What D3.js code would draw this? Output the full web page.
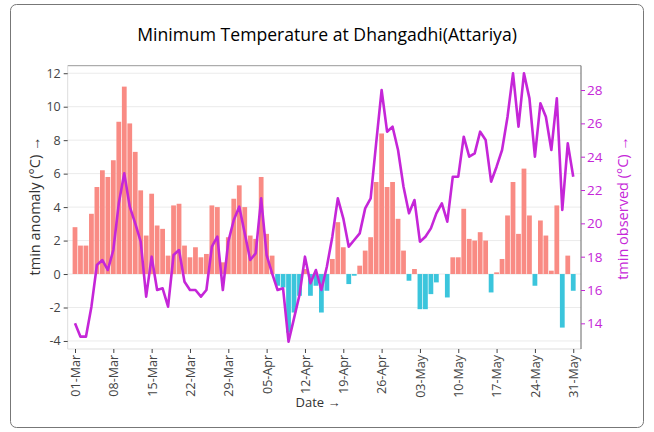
<!DOCTYPE html>
<html><head><meta charset="utf-8">
<script src="https://cdn.jsdelivr.net/npm/d3@7"></script>
<style>
body{margin:0;background:#fff;}
svg{display:block;font-family:"Open Sans",sans-serif;}
</style>
</head><body>
<svg id="c" width="654" height="432"></svg>
<script>
const titleText = "Minimum Temperature at Dhangadhi(Attariya)";
const firstDay = [2023, 2, 1];
const anomaly = [2.8,1.7,1.7,3.6,5.2,6.2,5.8,6.8,9.1,11.2,9.0,7.3,5.0,2.3,4.8,2.9,2.7,1.1,4.1,4.2,1.7,1.0,1.6,1.0,1.2,4.1,4.0,0.7,2.2,4.5,5.3,4.0,2.3,2.1,5.8,2.4,1.1,-0.7,-0.8,-3.5,-2.3,-1.3,0.3,-1.3,-0.7,-2.3,-1.0,0.9,3.1,1.6,-0.6,-0.1,0.5,1.4,2.2,5.5,8.4,5.2,5.5,3.3,1.4,-0.4,0.3,-2.1,-2.1,-1.2,-0.5,0,-1.4,1.0,1.0,3.9,2.1,2.0,2.5,2.0,-1.1,0.1,0.9,3.5,5.5,2.4,6.3,3.5,-0.7,3.2,2.3,0.2,4.1,-3.2,1.1,-1.0];
const observed = [14.0,13.2,13.2,15.0,17.5,17.8,17.2,18.4,21.2,23.0,21.0,20.0,18.9,15.6,18.0,16.0,16.1,15.0,18.1,18.4,16.5,16.0,16.0,15.6,16.0,18.6,19.2,16.0,18.9,20.2,21.0,19.4,17.8,18.2,21.5,18.1,17.0,16.0,16.1,12.9,14.3,15.7,18.0,16.4,17.2,16.0,17.4,19.2,21.5,20.3,18.6,19.0,19.4,20.9,21.5,24.8,28.0,25.5,25.8,24.4,22.2,20.6,21.4,18.9,19.2,19.7,20.6,21.2,20.1,22.8,22.8,25.2,24.0,24.2,25.5,25.0,22.5,23.4,24.4,26.4,29.0,25.8,29.0,27.5,24.0,27.2,26.4,24.4,27.5,20.8,24.8,22.8];
const xTickLabels = ["01-Mar","08-Mar","15-Mar","22-Mar","29-Mar","05-Apr","12-Apr","19-Apr","26-Apr","03-May","10-May","17-May","24-May","31-May"];
const leftTicks = [-4,-2,0,2,4,6,8,10,12];
const rightTicks = [14,16,18,20,22,24,26,28];

const svg = d3.select("#c");
const L = 67.7, R = 581, T = 65.7, B = 349;
const posColor = "#F98B84", negColor = "#3BC5DC", lineColor = "#C526D8";

const start = new Date(firstDay[0], firstDay[1], firstDay[2]);
const dates = anomaly.map((_, i) => d3.timeDay.offset(start, i));
const x = d3.scaleTime()
  .domain([d3.timeHour.offset(dates[0], -32), d3.timeHour.offset(dates[dates.length-1], 34)])
  .range([L, R]);
const yL = d3.scaleLinear().domain([-4.48, 12.45]).range([B, T]);
const yR = d3.scaleLinear().domain([12.46, 29.46]).range([B, T]);
const bw = x(dates[1]) - x(dates[0]);

// card border
svg.append("rect").attr("x",10.5).attr("y",4.5).attr("width",633).attr("height",423)
  .attr("rx",6).attr("fill","#fff").attr("stroke","#777").attr("stroke-width",1);

// title
svg.append("text").attr("x",327).attr("y",41).attr("text-anchor","middle")
  .attr("font-size",17.6).attr("font-weight",500).attr("fill","#000").text(titleText);

// gridlines
svg.append("g").selectAll("line").data(leftTicks).join("line")
  .attr("x1",L).attr("x2",R).attr("y1",d=>yL(d)).attr("y2",d=>yL(d))
  .attr("stroke","#ebebeb").attr("stroke-width",1);

// bars
svg.append("g").selectAll("rect").data(anomaly).join("rect")
  .attr("x",(d,i)=>x(dates[i]) - bw/2 + 0.35)
  .attr("width", bw - 0.7)
  .attr("y", d => d >= 0 ? yL(d) : yL(0))
  .attr("height", d => Math.abs(yL(d) - yL(0)))
  .attr("fill", d => d >= 0 ? posColor : negColor);

// line
const line = d3.line().x((d,i)=>x(dates[i])).y(d=>yR(d));
svg.append("path").datum(observed).attr("d", line)
  .attr("fill","none").attr("stroke",lineColor).attr("stroke-width",2.6)
  .attr("stroke-linejoin","round");

// frame
svg.append("line").attr("x1",L).attr("x2",R).attr("y1",T).attr("y2",T).attr("stroke","#999");
svg.append("line").attr("x1",L).attr("x2",R).attr("y1",B).attr("y2",B).attr("stroke","#ddd");
svg.append("line").attr("x1",L).attr("x2",L).attr("y1",T).attr("y2",B).attr("stroke","#ddd");
svg.append("line").attr("x1",R).attr("x2",R).attr("y1",T).attr("y2",B).attr("stroke","#666");

// left axis
const gl = svg.append("g").attr("transform",`translate(${L},0)`)
  .call(d3.axisLeft(yL).tickValues(leftTicks).tickSize(4).tickPadding(3).tickFormat(d=>String(d)));
gl.select(".domain").remove();
gl.selectAll(".tick line").attr("stroke","#444");
gl.selectAll(".tick text").attr("fill","#444").attr("font-size",12.5).attr("font-family","Open Sans");

// right axis
const gr = svg.append("g").attr("transform",`translate(${R},0)`)
  .call(d3.axisRight(yR).tickValues(rightTicks).tickSize(4).tickPadding(2).tickFormat(d=>String(d)));
gr.select(".domain").remove();
gr.selectAll(".tick line").attr("stroke",lineColor);
gr.selectAll(".tick text").attr("fill",lineColor).attr("font-size",13.5).attr("font-family","Open Sans");

// x axis
const tickDates = xTickLabels.map((_, k) => dates[k*7]);
const gx = svg.append("g").attr("transform",`translate(0,${B})`)
  .call(d3.axisBottom(x).tickValues(tickDates).tickSize(4).tickFormat((d,k)=>xTickLabels[k]));
gx.select(".domain").remove();
gx.selectAll(".tick line").attr("stroke","#444");
gx.selectAll(".tick text").attr("fill","#444").attr("font-size",12.5).attr("font-family","Open Sans")
  .attr("text-anchor","end").attr("transform","rotate(-90)").attr("x",-6).attr("y",0).attr("dy","0.35em");

// axis titles
svg.append("text").attr("x",318).attr("y",407).attr("text-anchor","middle")
  .attr("font-size",13).attr("fill","#333").text("Date \u2192");
svg.append("text").attr("transform","translate(40,206) rotate(-90)").attr("text-anchor","middle")
  .attr("font-size",14.5).attr("fill","#333").text("tmin anomaly (\u00B0C) \u2192");
svg.append("text").attr("transform","translate(628,208) rotate(-90)").attr("text-anchor","middle")
  .attr("font-size",14.5).attr("fill",lineColor).text("tmin observed (\u00B0C) \u2192");
</script>
</body></html>
